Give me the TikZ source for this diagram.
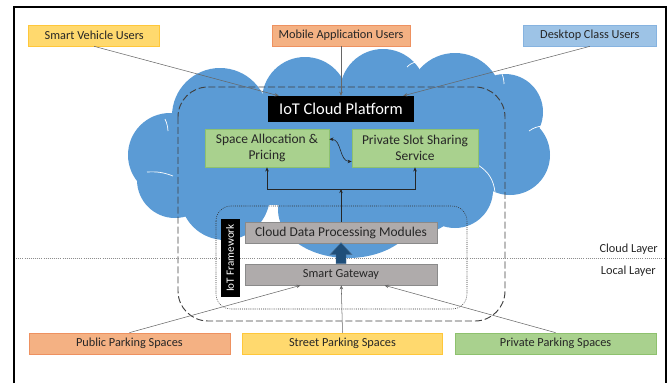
\documentclass[tikz,border=0pt]{standalone}
\usepackage{fontspec}
\setmainfont{Carlito}
\usetikzlibrary{arrows.meta}
\definecolor{ink}{HTML}{262626}
\definecolor{cloudblue}{HTML}{5B9BD5}
\definecolor{yelfill}{HTML}{FFD96E}
\definecolor{yelline}{HTML}{FFC73A}
\definecolor{salfill}{HTML}{F4B183}
\definecolor{salline}{HTML}{EE9160}
\definecolor{bluefill}{HTML}{9DC3E6}
\definecolor{blueline}{HTML}{86B3E0}
\definecolor{grnfill}{HTML}{A9D18E}
\definecolor{grnline}{HTML}{8EC16E}
\definecolor{modfill}{HTML}{AFABAB}
\definecolor{modline}{HTML}{8A8A8A}
\definecolor{arrowblue}{HTML}{1F4E79}
\newcommand{\pixel}{0.03cm}
\begin{document}
\begin{tikzpicture}[x=0.03cm, y=-0.03cm, >={Stealth[length=3.5pt,width=3pt]},
    usr/.style = {draw, line width=0.6pt, inner sep=0pt, minimum height=21*\pixel, text=ink, font=\fontsize{10.5}{12}\selectfont},
    svc/.style = {draw=grnline, fill=grnfill, line width=0.6pt, inner sep=0pt, minimum height=38*\pixel, align=center, text=ink, font=\fontsize{11.5}{14}\selectfont},
    mod/.style = {draw=modline, fill=modfill, line width=0.6pt, inner sep=0pt, minimum width=192*\pixel, minimum height=21*\pixel, text=ink},
    tag/.style = {fill=black, text=white, inner sep=0pt},
    lbl/.style = {inner sep=0pt, text=ink, font=\fontsize{10.5}{12}\selectfont},
    wire/.style = {draw=black!85, line width=0.5pt},
    feed/.style = {draw=black!60, line width=0.45pt},
    crease/.style = {draw=white, line width=0.6pt},
  ]
  \useasboundingbox (0,0) rectangle (669,383);
  % cloud
  \foreach \cx/\cy/\r in {220/116/48, 170/155/42, 175/180/38, 225/195/45, 305/100/43, 383/92/43,
      455/100/47, 505/112/38, 510/155/40, 455/190/38, 425/200/32}
    \fill[cloudblue] (\cx,\cy) circle[radius=\r*\pixel];
  \fill[cloudblue] (348,210) ellipse[x radius=70*\pixel, y radius=48*\pixel];
  \fill[cloudblue] (200,100) rectangle (490,205);
  \draw[crease] (147,172) to[bend left=12] (173,176);
  \draw[crease] (165,119) to[bend left=10] (168,131);
  \draw[crease] (478,165) to[bend left=25] (495,192);
  \draw[crease] (529,131) to[bend left=15] (543,126);
  \draw[crease] (502,74) to[bend left=10] (504,84);
  \draw[crease] (407,67) to[bend left=15] (416,62);
  %
  \draw[black!75, line width=0.8pt, dash pattern=on 6pt off 2.5pt, rounded corners=0.9cm] (178,87) rectangle (505,321);
  \draw[black!80, line width=0.45pt, dash pattern=on 0.8pt off 1pt, rounded corners=0.45cm] (216,206) rectangle (467,309);
  \draw[black!45, line width=0.45pt, dash pattern=on 0.8pt off 1pt] (14,258) -- (666,258);
  \draw[line width=1.6pt] (14,383) -- (14,7) -- (666,7) -- (666,383);
  %
  \node[usr, draw=yelline, fill=yelfill, minimum width=131*\pixel] (svu) at (94.2,35.5) {Smart Vehicle Users};
  \node[usr, draw=salline, fill=salfill, minimum width=138*\pixel] (mau) at (341,35.5) {Mobile Application Users};
  \node[usr, draw=blueline, fill=bluefill, minimum width=132.5*\pixel] (dcu) at (589.8,35.5) {Desktop Class Users};
  \node[tag, minimum width=146*\pixel, minimum height=26*\pixel, font=\fontsize{14}{16}\selectfont] (iot) at (341,109) {IoT Cloud Platform};
  \node[svc, minimum width=124*\pixel] (san) at (267,148) {Space Allocation \&\\Pricing};
  \node[svc, minimum width=126*\pixel] (pss) at (415,148) {Private Slot Sharing\\Service};
  \node[mod, font=\fontsize{11.5}{13}\selectfont] (cdpm) at (341,232.5) {Cloud Data Processing Modules};
  \node[mod, font=\fontsize{10.5}{12}\selectfont] (gw) at (341,274.5) {Smart Gateway};
  \node[tag, rotate=90, minimum width=78*\pixel, minimum height=19*\pixel, font=\fontsize{9.5}{11}\selectfont] (iotf) at (230,258) {IoT Framework};
  \node[usr, draw=salline, fill=salfill, minimum width=201*\pixel] (pub) at (129.4,343.5) {Public Parking Spaces};
  \node[usr, draw=yelline, fill=yelfill, minimum width=200*\pixel] (str) at (342.5,343.5) {Street Parking Spaces};
  \node[usr, draw=grnline, fill=grnfill, minimum width=201*\pixel] (pri) at (555.6,343.5) {Private Parking Spaces};
  \node[lbl, anchor=east] (cl) at (658,249) {Cloud Layer};
  \node[lbl, anchor=east] (ll) at (656,271) {Local Layer};
  \coordinate (j) at (341,189);
  %
  \draw[feed,->] (svu.south) -- (iot.168);
  \draw[feed,->] (mau) -- (iot);
  \draw[feed,->] (dcu.south) -- (iot.12);
  \draw[wire,<->] (san.8) to[out=0,in=180] (pss.192);
  \draw[wire,->] (cdpm) -- (j);
  \draw[wire,->] (j) -| (san);
  \draw[wire,->] (j) -| (pss);
  \filldraw[fill=arrowblue, draw=arrowblue!80, line width=0.4pt] (gw.north) ++(-5,0) -- ++(0,-9) -- ++(-6,0) -- ++(11,-12) -- ++(11,12) -- ++(-6,0) -- ++(0,9) -- cycle;
  \draw[feed,->] (pub.north) -- (gw.195);
  \draw[feed,->] (str.north) -- (gw);
  \draw[feed,->] (pri.north) -- (gw.346);
\end{tikzpicture}
\end{document}
